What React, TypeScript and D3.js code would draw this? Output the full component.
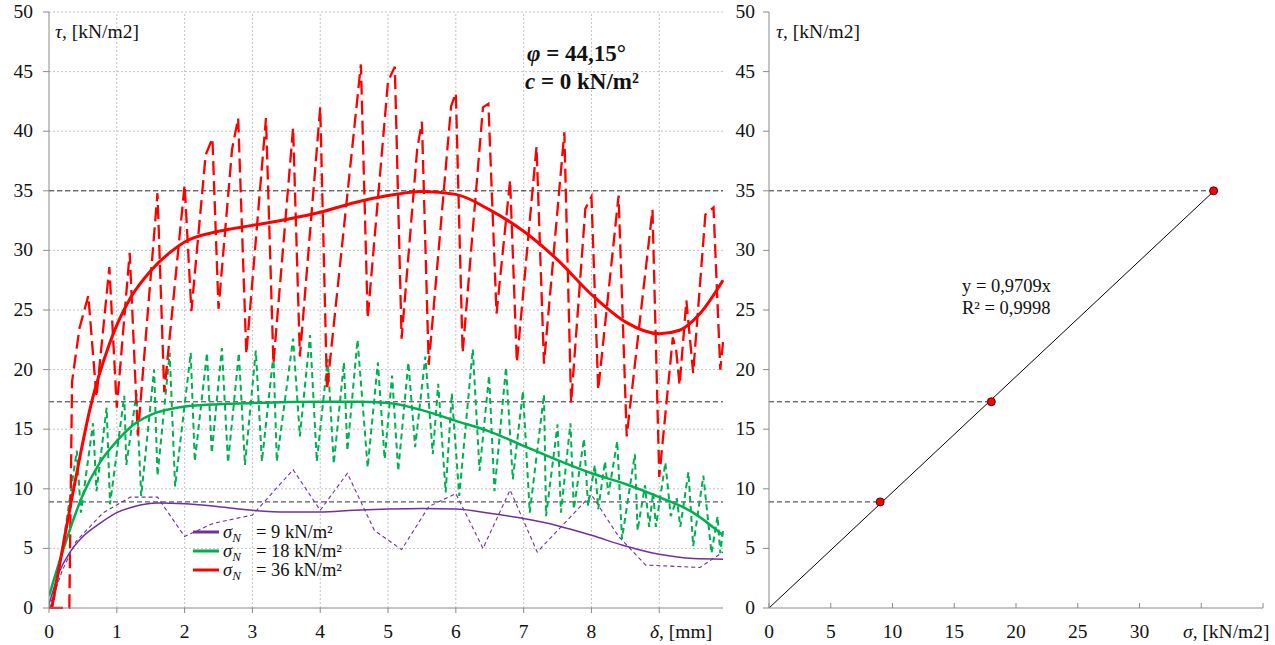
import React from "react";
import * as d3 from "d3";

const W = 1275;
const H = 645;
const FONT = '"Liberation Serif", "DejaVu Serif", serif';

// axis ticks
const deltaTicks = [0, 1, 2, 3, 4, 5, 6, 7, 8, 9];
const deltaLabels = [0, 1, 2, 3, 4, 5, 6, 7, 8];
const tauTicks = [0, 5, 10, 15, 20, 25, 30, 35, 40, 45, 50];
const sigmaTicks = [0, 5, 10, 15, 20, 25, 30, 35, 40];
const sigmaLabels = [0, 5, 10, 15, 20, 25, 30];

// failure envelope
const sigmaN = [9, 18, 36];
const tauPeak = [8.9, 17.3, 35.0];
const slope = 0.9709;
const rSquared = "0,9998";

// measured shear stress τ [kN/m2] against displacement δ [mm]
const purpleRaw: [number, number][] = [
  [0, 0], [0.2, 3.2], [0.4, 5.6], [0.8, 8.0], [1.2, 9.3], [1.6, 9.3], [2.0, 6.0],
  [2.42, 7.1], [3.0, 7.8], [3.6, 11.6], [4.0, 8.2], [4.4, 11.3], [4.8, 6.5],
  [5.2, 4.9], [5.6, 8.5], [6.0, 9.6], [6.4, 5.0], [6.8, 9.9], [7.2, 4.7],
  [8.0, 9.5], [8.4, 6.0], [8.8, 3.6], [9.6, 3.4], [9.94, 4.7],
];

const greenRaw: [number, number][] = [
  [0, 0], [0.06, 0.3], [0.2, 5], [0.41, 13.2], [0.47, 8.0], [0.65, 15.5], [0.7, 9.8],
  [0.85, 16.8], [0.9, 8.7], [1.11, 17.8], [1.14, 12.0], [1.29, 18.0], [1.36, 9.4],
  [1.55, 20.0], [1.6, 11.1], [1.78, 21.4], [1.86, 10.2], [2.09, 21.4], [2.15, 12.3],
  [2.33, 21.4], [2.4, 13.0], [2.55, 21.8], [2.64, 12.2], [2.8, 21.4], [2.89, 12.0],
  [3.05, 21.6], [3.14, 12.3], [3.31, 21.2], [3.36, 12.3], [3.6, 22.6], [3.7, 14.4],
  [3.85, 22.9], [3.95, 12.3], [4.11, 20.9], [4.2, 12.1], [4.35, 20.6], [4.4, 13.2],
  [4.55, 22.5], [4.7, 11.8], [4.85, 20.6], [4.95, 12.5], [5.06, 19.5], [5.15, 11.5],
  [5.3, 20.6], [5.4, 13.5], [5.55, 21.1], [5.66, 12.9], [5.74, 18.8], [5.85, 9.7],
  [5.94, 18.0], [6.05, 9.4], [6.25, 21.7], [6.35, 11.5], [6.49, 19.5], [6.57, 9.8],
  [6.74, 20.2], [6.84, 10.8], [6.99, 18.2], [7.09, 8.0], [7.3, 17.9], [7.33, 7.7],
  [7.5, 15.4], [7.55, 8.0], [7.69, 15.5], [7.74, 8.3], [7.89, 14.2], [7.95, 8.6],
  [8.05, 12.0], [8.1, 8.3], [8.2, 12.3], [8.25, 9.5], [8.38, 14.0], [8.45, 5.8],
  [8.64, 12.9], [8.68, 6.5], [8.79, 10.3], [8.85, 6.8], [8.91, 9.7], [8.95, 6.8],
  [9.09, 12.2], [9.17, 7.7], [9.26, 9.2], [9.31, 6.8], [9.43, 11.4], [9.5, 5.2],
  [9.65, 11.1], [9.77, 4.6], [9.86, 7.7], [9.9, 4.6], [9.94, 6.5],
];

const redRaw: [number, number][] = [
  [0, 0], [0.3, 0], [0.34, 19], [0.45, 23.5], [0.58, 26.2], [0.7, 17.7], [0.89, 28.6],
  [1.0, 16.8], [1.19, 29.8], [1.31, 14.5], [1.6, 34.8], [1.7, 18.1], [2.0, 35.5],
  [2.1, 24.9], [2.31, 38.0], [2.41, 39.4], [2.5, 25.1], [2.7, 38.5], [2.79, 41.1],
  [2.91, 21.3], [3.2, 41.1], [3.31, 20.5], [3.6, 40.3], [3.7, 21.1], [4.0, 42.0],
  [4.1, 18.3], [4.6, 45.6], [4.7, 24.3], [5.0, 44.2], [5.1, 45.4], [5.2, 22.6],
  [5.43, 38.5], [5.5, 40.8], [5.6, 20.4], [5.93, 42.1], [6.0, 43.2], [6.1, 21.4],
  [6.4, 42.0], [6.48, 42.3], [6.6, 24.7], [6.8, 35.9], [6.9, 20.6], [7.19, 38.7],
  [7.3, 20.5], [7.6, 39.9], [7.7, 17.2], [7.91, 33.5], [8.0, 34.5], [8.1, 18.3],
  [8.4, 34.6], [8.52, 14.4], [8.9, 33.4], [9.0, 11.0], [9.2, 22.7], [9.25, 21.6],
  [9.3, 18.7], [9.4, 25.8], [9.5, 19.7], [9.68, 33.0], [9.8, 33.6], [9.9, 20.0],
  [9.94, 22.3],
];

// smoothed trends
const purpleFit: [number, number][] = [
  [0, 0.3], [0.15, 3.0], [0.3, 4.6], [0.5, 6.0], [0.75, 7.1], [1.0, 8.0], [1.25, 8.5],
  [1.6, 8.8], [2.0, 8.75], [2.5, 8.5], [3.0, 8.2], [3.5, 8.05], [4.0, 8.05], [4.5, 8.2],
  [5.0, 8.3], [5.5, 8.35], [6.0, 8.3], [6.5, 7.95], [7.0, 7.5], [7.5, 6.9], [8.0, 6.1],
  [8.5, 5.2], [9.0, 4.5], [9.5, 4.15], [9.94, 4.1],
];

const greenFit: [number, number][] = [
  [0, 1.0], [0.25, 5.6], [0.5, 9.5], [0.75, 12.2], [1.0, 14.0], [1.25, 15.4], [1.5, 16.2],
  [2.0, 16.9], [2.5, 17.1], [3.0, 17.2], [4.0, 17.3], [4.5, 17.3], [5.0, 17.2],
  [5.5, 16.6], [6.0, 15.7], [6.5, 14.8], [7.0, 13.6], [7.5, 12.4], [8.0, 11.3],
  [8.5, 10.4], [9.0, 9.3], [9.5, 8.0], [9.94, 6.1],
];

const redFit: [number, number][] = [
  [0.04, 0], [0.2, 5.0], [0.33, 9.0], [0.46, 12.8], [0.6, 16.6], [0.9, 22.3], [1.2, 26.0],
  [1.5, 28.3], [1.8, 29.9], [2.0, 30.7], [2.5, 31.6], [3.0, 32.1], [3.5, 32.6],
  [4.0, 33.2], [4.5, 34.0], [5.0, 34.6], [5.5, 34.95], [6.0, 34.7], [6.5, 33.4],
  [7.0, 31.6], [7.5, 29.2], [8.0, 26.3], [8.5, 24.0], [9.0, 23.0], [9.3, 23.3],
  [9.6, 24.7], [9.94, 27.5],
];

const series = [
  { color: "#7030A0", raw: purpleRaw, fit: purpleFit, rawW: 1.1, rawDash: "4,3", fitW: 1.5, sigma: sigmaN[0] },
  { color: "#00B050", raw: greenRaw, fit: greenFit, rawW: 2, rawDash: "6,4", fitW: 2.5, sigma: sigmaN[1] },
  { color: "#FF0000", raw: redRaw, fit: redFit, rawW: 2.3, rawDash: "14,6", fitW: 3, sigma: sigmaN[2] },
];

const xL = d3.scaleLinear().domain([0, 9.94]).range([49, 723]);
const yL = d3.scaleLinear().domain([0, 50]).range([608, 12]);
const xR = d3.scaleLinear().domain([0, 40]).range([769, 1263]);
const yR = d3.scaleLinear().domain([0, 50]).range([608, 12]);

const rawLine = d3
  .line<[number, number]>()
  .x((d) => xL(d[0]))
  .y((d) => yL(d[1]));

const fitLine = d3
  .line<[number, number]>()
  .x((d) => xL(d[0]))
  .y((d) => yL(d[1]))
  .curve(d3.curveMonotoneX);

const AXIS = "#8a8a8a";
const GRID = "#c4c4c4";
const txt = { fontFamily: FONT, fill: "#111" };

export default function App() {
  const [x0, x1] = xL.range();
  const [yb, yt] = yL.range();
  return (
    <svg
      width={W}
      height={H}
      viewBox={`0 0 ${W} ${H}`}
      style={{ position: "absolute", left: 0, top: 0, background: "#fff", fontFamily: FONT }}
    >
      <defs>
        <clipPath id="plotL">
          <rect x={x0} y={yt - 2} width={x1 - x0 + 1} height={yb - yt + 3} />
        </clipPath>
      </defs>
      <rect x={0} y={0} width={W} height={H} fill="#fff" />

      {/* ---------- left panel: τ–δ curves ---------- */}
      {tauTicks.slice(1).map((t) => (
        <line key={`gh${t}`} x1={x0} x2={x1} y1={yL(t)} y2={yL(t)} stroke={GRID} strokeDasharray="2,2" />
      ))}
      {deltaTicks.slice(1).map((t) => (
        <line key={`gv${t}`} x1={xL(t)} x2={xL(t)} y1={yb} y2={yt} stroke={GRID} strokeDasharray="2,2" />
      ))}

      {tauPeak.map((t, i) => (
        <line key={`ref${i}`} x1={x0} x2={x1} y1={yL(t)} y2={yL(t)} stroke="#333" strokeWidth={1} strokeDasharray="5,3" />
      ))}

      <g clipPath="url(#plotL)" fill="none">
        {series.map((s, i) => (
          <path key={`raw${i}`} d={rawLine(s.raw) ?? ""} stroke={s.color} strokeWidth={s.rawW} strokeDasharray={s.rawDash} />
        ))}
        {series.map((s, i) => (
          <path key={`fit${i}`} d={fitLine(s.fit) ?? ""} stroke={s.color} strokeWidth={s.fitW} />
        ))}
      </g>

      {/* axes */}
      <line x1={x0} x2={x0} y1={yt} y2={yb} stroke={AXIS} />
      <line x1={x0} x2={x1} y1={yb} y2={yb} stroke={AXIS} />
      {tauTicks.map((t) => (
        <g key={`ytl${t}`}>
          <line x1={x0 - 6} x2={x0} y1={yL(t)} y2={yL(t)} stroke={AXIS} />
          <text style={txt} x={33} y={yL(t) + 6} fontSize={19.5} textAnchor="end">{t}</text>
        </g>
      ))}
      {deltaTicks.map((t) => (
        <line key={`xtl${t}`} x1={xL(t)} x2={xL(t)} y1={yb} y2={yb + 5} stroke={AXIS} />
      ))}
      {deltaLabels.map((t) => (
        <text style={txt} key={`xl${t}`} x={xL(t)} y={638} fontSize={19.5} textAnchor="middle">{t}</text>
      ))}
      <text style={txt} x={650} y={638} fontSize={19.5}>
        <tspan fontStyle="italic">δ</tspan>, [mm]
      </text>
      <text style={txt} x={55} y={38} fontSize={19.5}>
        <tspan fontStyle="italic">τ</tspan>, [kN/m2]
      </text>

      {/* strength parameters */}
      <text style={txt} x={527} y={61} fontSize={23} fontWeight="bold">
        <tspan fontStyle="italic">φ</tspan> = 44,15°
      </text>
      <text style={txt} x={525} y={89} fontSize={23} fontWeight="bold">
        <tspan fontStyle="italic">c</tspan> = 0 kN/m²
      </text>

      {/* legend */}
      {series.map((s, i) => {
        const ly = 532 + i * 19;
        return (
          <g key={`lg${i}`}>
            <line x1={193} x2={219} y1={ly} y2={ly} stroke={s.color} strokeWidth={3} />
            <text style={txt} x={223} y={ly + 6} fontSize={18.5}>
              <tspan fontStyle="italic">σ</tspan>
              <tspan fontStyle="italic" fontSize={13} dy={4}>N</tspan>
              <tspan x={256} dy={-4}>= {s.sigma} kN/m²</tspan>
            </text>
          </g>
        );
      })}

      {/* ---------- right panel: failure envelope ---------- */}
      {sigmaN.map((s, i) => (
        <line key={`rref${i}`} x1={xR(0)} x2={xR(s)} y1={yR(tauPeak[i])} y2={yR(tauPeak[i])} stroke="#333" strokeDasharray="5,3" />
      ))}
      <line
        x1={xR(0)}
        y1={yR(0)}
        x2={xR(sigmaN[2])}
        y2={yR(slope * sigmaN[2])}
        stroke="#000"
        strokeWidth={1}
      />
      {sigmaN.map((s, i) => (
        <circle key={`pt${i}`} cx={xR(s)} cy={yR(tauPeak[i])} r={4} fill="#ff0000" stroke="#5a0000" strokeWidth={1} />
      ))}

      <line x1={xR(0)} x2={xR(0)} y1={yR(50)} y2={yR(0)} stroke={AXIS} />
      <line x1={xR(0)} x2={xR(40)} y1={yR(0)} y2={yR(0)} stroke={AXIS} />
      {tauTicks.map((t) => (
        <g key={`ytr${t}`}>
          <line x1={xR(0) - 6} x2={xR(0)} y1={yR(t)} y2={yR(t)} stroke={AXIS} />
          <text style={txt} x={755} y={yR(t) + 6} fontSize={19.5} textAnchor="end">{t}</text>
        </g>
      ))}
      {sigmaTicks.map((t) => (
        <line key={`xtr${t}`} x1={xR(t)} x2={xR(t)} y1={yR(0) - 5} y2={yR(0)} stroke={AXIS} />
      ))}
      {sigmaLabels.map((t) => (
        <text style={txt} key={`xrl${t}`} x={xR(t)} y={638} fontSize={19.5} textAnchor="middle">{t}</text>
      ))}
      <text style={txt} x={1183} y={638} fontSize={19.5}>
        <tspan fontStyle="italic">σ</tspan>, [kN/m2]
      </text>
      <text style={txt} x={776} y={38} fontSize={19.5}>
        <tspan fontStyle="italic">τ</tspan>, [kN/m2]
      </text>

      <text style={txt} x={962} y={292} fontSize={18.5}>y = {String(slope).replace(".", ",")}x</text>
      <text style={txt} x={962} y={314} fontSize={18.5}>R² = {rSquared}</text>
    </svg>
  );
}
